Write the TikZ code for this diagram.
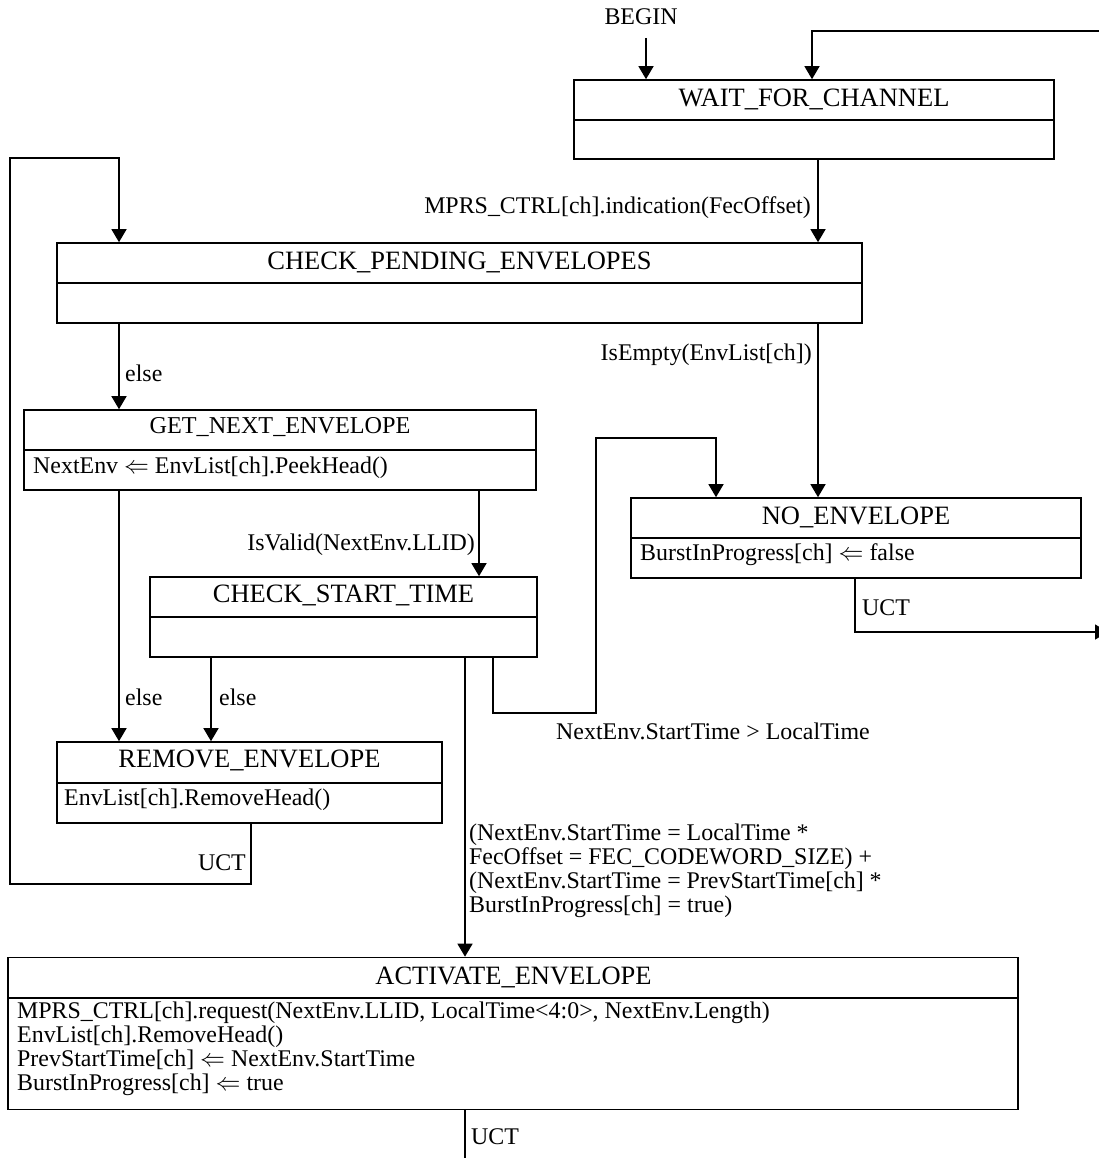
\documentclass[tikz,border=0pt]{standalone}
\usepackage{fontspec}
\setmainfont{Liberation Serif}
\usetikzlibrary{arrows.meta}
\begin{document}
\begin{tikzpicture}[x=1pt,y=-1pt,
  box/.style={draw,line width=1.6pt,inner sep=0pt,rectangle},
  ttl/.style={inner sep=0pt,font=\fontsize{26.5}{28}\selectfont},
  ttls/.style={inner sep=0pt,font=\fontsize{24.2}{26}\selectfont},
  body/.style={inner sep=0pt,anchor=west,align=left,font=\fontsize{23.9}{24}\selectfont},
  lbl/.style={inner sep=0pt,align=left,font=\fontsize{23.9}{24}\selectfont},
  conn/.style={line width=1.4pt},
  arr/.style={conn,-{Triangle[width=15pt,length=13pt]}},
  divl/.style={line width=1.6pt}
]
\useasboundingbox (0,0) rectangle (1099,1158);
\clip (0,0) rectangle (1099,1158);

% boxes
\node[box,minimum width=480pt,minimum height=79pt] (wait) at (814,119.5) {};
\node[box,minimum width=805pt,minimum height=80pt] (cpe) at (459.5,283) {};
\node[box,minimum width=512pt,minimum height=80pt] (gne) at (280,450) {};
\node[box,minimum width=387pt,minimum height=80pt] (cst) at (343.5,617) {};
\node[box,minimum width=450pt,minimum height=80pt] (noe) at (856,538) {};
\node[box,minimum width=385pt,minimum height=81pt] (rem) at (249.5,782.5) {};
\node[box,minimum width=1010pt,minimum height=152pt] (act) at (513,1033.5) {};

% dividers
\draw[divl] (wait.west |- 0,120) -- (wait.east |- 0,120);
\draw[divl] (cpe.west |- 0,283) -- (cpe.east |- 0,283);
\draw[divl] (gne.west |- 0,450) -- (gne.east |- 0,450);
\draw[divl] (cst.west |- 0,617) -- (cst.east |- 0,617);
\draw[divl] (noe.west |- 0,538) -- (noe.east |- 0,538);
\draw[divl] (rem.west |- 0,783) -- (rem.east |- 0,783);
\draw[divl] (act.west |- 0,998) -- (act.east |- 0,998);

% titles
\node[ttl] (twait) at (814,99) {WAIT\_FOR\_CHANNEL};
\node[ttl] (tcpe) at (459.5,262) {CHECK\_PENDING\_ENVELOPES};
\node[ttls] (tgne) at (280,427) {GET\_NEXT\_ENVELOPE};
\node[ttl] (tcst) at (343.5,595) {CHECK\_START\_TIME};
\node[ttl] (tnoe) at (856,517) {NO\_ENVELOPE};
\node[ttl] (trem) at (249.5,760) {REMOVE\_ENVELOPE};
\node[ttl] (tact) at (513.5,977) {ACTIVATE\_ENVELOPE};

% bodies
\node[body] (bgne) at (33,468) {NextEnv $\Leftarrow$ EnvList[ch].PeekHead()};
\node[body] (bnoe) at (640,555) {BurstInProgress[ch] $\Leftarrow$ false};
\node[body] (brem) at (64,800) {EnvList[ch].RemoveHead()};
\node[body] (bact) at (17,1049) {MPRS\_CTRL[ch].request(NextEnv.LLID, LocalTime<4:0>, NextEnv.Length)\\
EnvList[ch].RemoveHead()\\
PrevStartTime[ch] $\Leftarrow$ NextEnv.StartTime\\
BurstInProgress[ch] $\Leftarrow$ true};

% free ends
\node[lbl] (begin) at (641,17) {BEGIN};
\coordinate (bg) at (646,38);
\coordinate (rtop) at (1105,31);
\coordinate (rright) at (1108,632);
\coordinate (abot) at (465,1162);

% connectors
\draw[arr] (bg) -- (bg |- wait.north);
\draw[arr] (rtop) -| (812,0 |- wait.north);
\draw[arr] (wait.south -| 818,0) -- (cpe.north -| 818,0);
\node[lbl,anchor=east] (l1) at (811,208) {MPRS\_CTRL[ch].indication(FecOffset)};

\draw[arr] (cpe.south -| 818,0) -- (noe.north -| 818,0);
\node[lbl,anchor=east] (l2) at (812,355) {IsEmpty(EnvList[ch])};

\draw[arr] (cpe.south -| 119,0) -- (gne.north -| 119,0);
\node[lbl,anchor=west] (l3) at (125,373) {else};

\draw[arr] (rem.south -| 251,0) |- (10,884) |- (119,158) -- (119,0 |- cpe.north);
\node[lbl,anchor=east] (l4) at (246,863) {UCT};

\draw[arr] (gne.south -| 119,0) -- (rem.north -| 119,0);
\node[lbl,anchor=west] (l5) at (125,697) {else};

\draw[arr] (gne.south -| 479,0) -- (cst.north -| 479,0);
\node[lbl,anchor=east] (l6) at (475,545) {IsValid(NextEnv.LLID)};

\draw[arr] (cst.south -| 211,0) -- (rem.north -| 211,0);
\node[lbl,anchor=west] (l7) at (219,697) {else};

\draw[arr] (cst.south -| 493,0) |- (596,713) |- (716,438) -- (716,0 |- noe.north);
\node[lbl,anchor=west] (l8) at (556,731) {NextEnv.StartTime > LocalTime};

\draw[arr] (cst.south -| 465,0) -- (act.north -| 465,0);
\node[lbl,anchor=west] (l9) at (469,871) {(NextEnv.StartTime = LocalTime *\\
FecOffset = FEC\_CODEWORD\_SIZE) +\\
(NextEnv.StartTime = PrevStartTime[ch] *\\
BurstInProgress[ch] = true)};

\draw[arr] (noe.south -| 855,0) |- (rright);
\node[lbl,anchor=west] (l10) at (862,608) {UCT};

\draw[conn] (act.south -| 465,0) -- (abot);
\node[lbl,anchor=west] (l11) at (471,1137) {UCT};
\end{tikzpicture}
\end{document}
